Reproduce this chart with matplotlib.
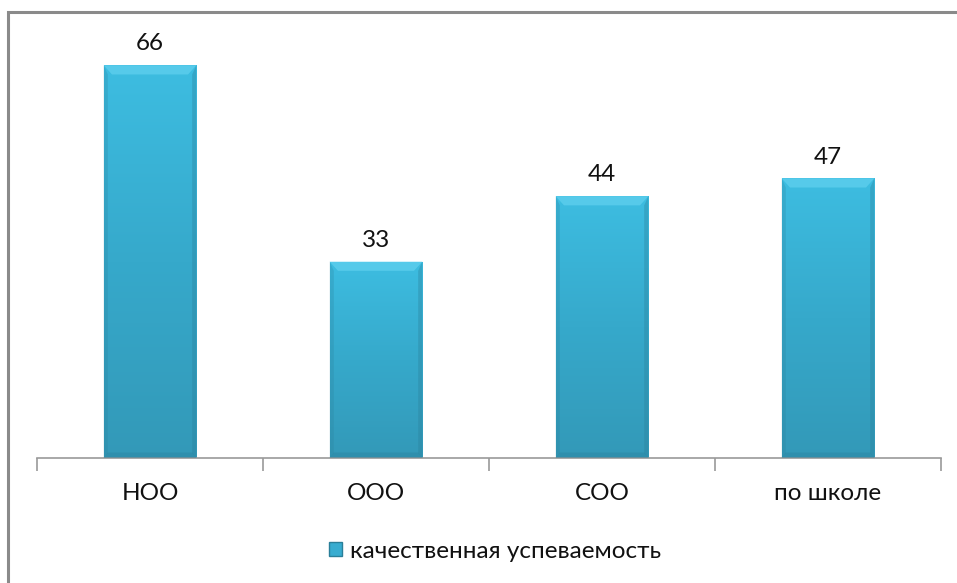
import matplotlib
matplotlib.use("Agg")
import matplotlib.pyplot as plt
import numpy as np
from matplotlib.colors import LinearSegmentedColormap
from matplotlib.patches import Rectangle

categories = ["НОО", "ООО", "СОО", "по школе"]
values = [66, 33, 44, 47]
series_name = "качественная успеваемость"

plt.rcParams['font.family'] = ['Lato', 'DejaVu Sans']

W, H = 957, 583
fig = plt.figure(figsize=(W / 100, H / 100), dpi=100)

# outer chart border (top-left visible, rest clipped)
fig.patches.append(Rectangle((8 / W, -0.05), 1.1, (H - 12) / H + 0.05,
                             transform=fig.transFigure, fill=False,
                             edgecolor='#8a8a8a', linewidth=2.2, zorder=0))

ax_left, ax_right = 37, 941
ax_bottom, ax_top = 458, 41.5
ax = fig.add_axes([ax_left / W, 1 - ax_bottom / H,
                   (ax_right - ax_left) / W, (ax_bottom - ax_top) / H])
ax.set_xlim(-0.5, len(categories) - 0.5)
ax.set_ylim(0, 70)

x = np.arange(len(categories))
bars = ax.bar(x, values, width=0.41, color='#38acd0', zorder=2,
              edgecolor='none')

cmap = LinearSegmentedColormap.from_list('g', ['#3399b8', '#36a9cb', '#3dbde1'])
grad = np.linspace(0, 1, 256).reshape(-1, 1)
for b in bars:
    x0, w, h = b.get_x(), b.get_width(), b.get_height()
    im = ax.imshow(grad, extent=[x0, x0 + w, 0, h], origin='lower',
                   cmap=cmap, aspect='auto', zorder=2.5)
    im.set_clip_path(b)
    # top bevel highlight
    bw = w * 0.09
    bh = 70 * 0.022
    ax.fill([x0, x0 + w, x0 + w - bw, x0 + bw], [h, h, h - bh, h - bh],
            color='#5fd0ee', alpha=0.75, zorder=3, lw=0)
    # side and bottom shade
    ax.fill([x0 + w, x0 + w, x0 + w - bw * 0.5, x0 + w - bw * 0.5],
            [h, 0, bh * 0.5, h - bh], color='#2a7f99', alpha=0.35, zorder=3, lw=0)
    ax.fill([x0, x0, x0 + bw * 0.5, x0 + bw * 0.5],
            [h, 0, bh * 0.5, h - bh], color='#2a7f99', alpha=0.25, zorder=3, lw=0)
    ax.fill([x0, x0 + w, x0 + w - bw * 0.5, x0 + bw * 0.5],
            [0, 0, bh * 0.6, bh * 0.6], color='#2a7f99', alpha=0.35, zorder=3, lw=0)
    ax.text(b.get_x() + w / 2, h + 70 * 0.026, f"{int(h)}", ha='center',
            va='bottom', fontsize=17.5, color='#111111', zorder=4)

for s in ['top', 'right', 'left']:
    ax.spines[s].set_visible(False)
ax.spines['bottom'].set_color('#9a9a9a')
ax.spines['bottom'].set_linewidth(1.2)
ax.set_yticks([])
ax.set_xticks(np.arange(-0.5, len(categories) + 0.5, 1.0))
ax.set_xticklabels([])
ax.set_xticks(x, minor=True)
ax.set_xticklabels(categories, minor=True, fontsize=17.5, color='#111111')
ax.tick_params(axis='x', which='major', length=9, color='#9a9a9a', width=1.2)
ax.tick_params(axis='x', which='minor', length=0, pad=18)

# legend
leg = fig.legend([Rectangle((0, 0), 1, 1, facecolor='#38acd0', edgecolor='#2a7f99')],
                 [series_name], loc='center', bbox_to_anchor=(495 / W, 1 - 551 / H),
                 frameon=False, fontsize=17.5, handlelength=0.55, handleheight=0.55,
                 handletextpad=0.3, labelcolor='#111111')

fig.savefig('out.png', dpi=100)
